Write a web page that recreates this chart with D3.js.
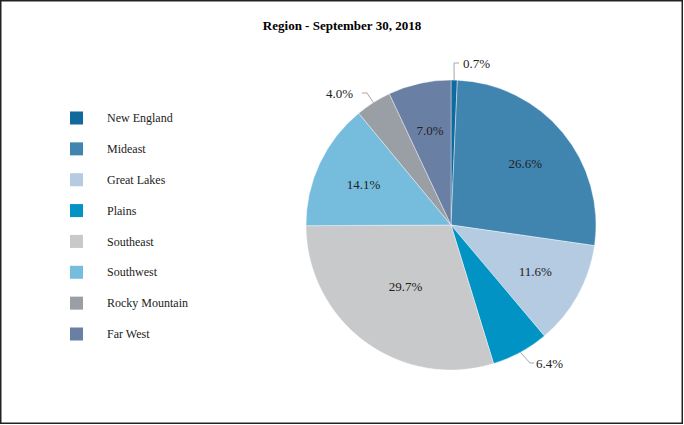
<!DOCTYPE html>
<html>
<head>
<meta charset="utf-8">
<script src="https://cdn.jsdelivr.net/npm/d3@7"></script>
<style>
  html, body { margin: 0; padding: 0; background: #fff; }
  svg { display: block; }
</style>
</head>
<body>
<svg id="chart" width="684" height="425"></svg>
<script>
var regions = ['New England', 'Mideast', 'Great Lakes', 'Plains', 'Southeast', 'Southwest', 'Rocky Mountain', 'Far West'];
var shares = [0.7, 26.6, 11.6, 6.4, 29.7, 14.1, 4.0, 7.0];
var colors = ['#106a9d', '#3f85b0', '#b4cbe1', '#0093c3', '#c8c9cb', '#76bddd', '#9a9fa5', '#6a7fa4'];
var outsideLabels = ['New England', 'Plains', 'Rocky Mountain'];

var svg = d3.select('#chart');
var width = 684, height = 425;
var cx = 451, cy = 225, radius = 145;

// frame
svg.append('rect')
    .attr('x', 0.75).attr('y', 0.75)
    .attr('width', 681.5).attr('height', 422.5)
    .attr('fill', '#fff')
    .attr('stroke', '#222')
    .attr('stroke-width', 1.5);

// title
svg.append('text')
    .attr('x', width / 2)
    .attr('y', 30)
    .attr('text-anchor', 'middle')
    .attr('font-family', 'Liberation Serif, Times New Roman, serif')
    .attr('font-weight', 'bold')
    .attr('font-size', 13)
    .text('Region - September 30, 2018');

var color = d3.scaleOrdinal().domain(regions).range(colors);

var pie = d3.pie()
    .sort(null)
    .value(function (d, i) { return shares[i]; });

var arcs = pie(regions);
var arc = d3.arc().innerRadius(0).outerRadius(radius);

var g = svg.append('g').attr('transform', 'translate(' + cx + ',' + cy + ')');

g.selectAll('path.slice')
    .data(arcs)
    .enter()
    .append('path')
    .attr('class', 'slice')
    .attr('d', arc)
    .attr('fill', function (d) { return color(d.data); })
    .attr('stroke', '#fff')
    .attr('stroke-width', 0.4);

// inside labels
var labelRatio = function (d) { return d.data === 'Southeast' ? 0.53 : 0.665; };
g.selectAll('text.inside')
    .data(arcs.filter(function (d) { return outsideLabels.indexOf(d.data) < 0; }))
    .enter()
    .append('text')
    .attr('class', 'inside')
    .attr('transform', function (d) {
        var a = (d.startAngle + d.endAngle) / 2;
        var r = radius * labelRatio(d);
        return 'translate(' + (r * Math.sin(a)) + ',' + (-r * Math.cos(a)) + ')';
    })
    .attr('text-anchor', 'middle')
    .attr('dy', '0.35em')
    .attr('font-family', 'Liberation Serif, Times New Roman, serif')
    .attr('font-size', 13)
    .attr('fill', '#222')
    .text(function (d) { return shares[d.index].toFixed(1) + '%'; });

// outside labels with leader lines
function edge(d, r) {
    var a = (d.startAngle + d.endAngle) / 2;
    return [r * Math.sin(a), -r * Math.cos(a)];
}
var leaders = {
    'New England': { elbow: [3, -162], end: [8, -162], anchor: 'start', tx: 12 },
    'Plains': { elbow: [79, 138], end: [83, 138], anchor: 'start', tx: 85 },
    'Rocky Mountain': { elbow: [-84, -132], end: [-89, -132], anchor: 'end', tx: -98 }
};
arcs.filter(function (d) { return outsideLabels.indexOf(d.data) >= 0; }).forEach(function (d) {
    var L = leaders[d.data];
    var p0 = edge(d, radius);
    g.append('path')
        .attr('d', d3.line()([p0, L.elbow, L.end]))
        .attr('fill', 'none')
        .attr('stroke', '#a6a6a6')
        .attr('stroke-width', 1);
    g.append('text')
        .attr('x', L.tx)
        .attr('y', L.elbow[1])
        .attr('dy', '0.35em')
        .attr('text-anchor', L.anchor)
        .attr('font-family', 'Liberation Serif, Times New Roman, serif')
        .attr('font-size', 13)
        .attr('fill', '#222')
        .text(shares[d.index].toFixed(1) + '%');
});

// legend
var legendY = d3.scalePoint().domain(regions).range([118, 334]);
var legend = svg.append('g');
legend.selectAll('rect')
    .data(regions)
    .enter()
    .append('rect')
    .attr('x', 70)
    .attr('y', function (d) { return legendY(d) - 6.5; })
    .attr('width', 13)
    .attr('height', 13)
    .attr('fill', function (d) { return color(d); });
legend.selectAll('text')
    .data(regions)
    .enter()
    .append('text')
    .attr('x', 107)
    .attr('y', function (d) { return legendY(d); })
    .attr('dy', '0.35em')
    .attr('font-family', 'Liberation Serif, Times New Roman, serif')
    .attr('font-size', 12)
    .attr('fill', '#222')
    .text(function (d) { return d; });
</script>
</body>
</html>
